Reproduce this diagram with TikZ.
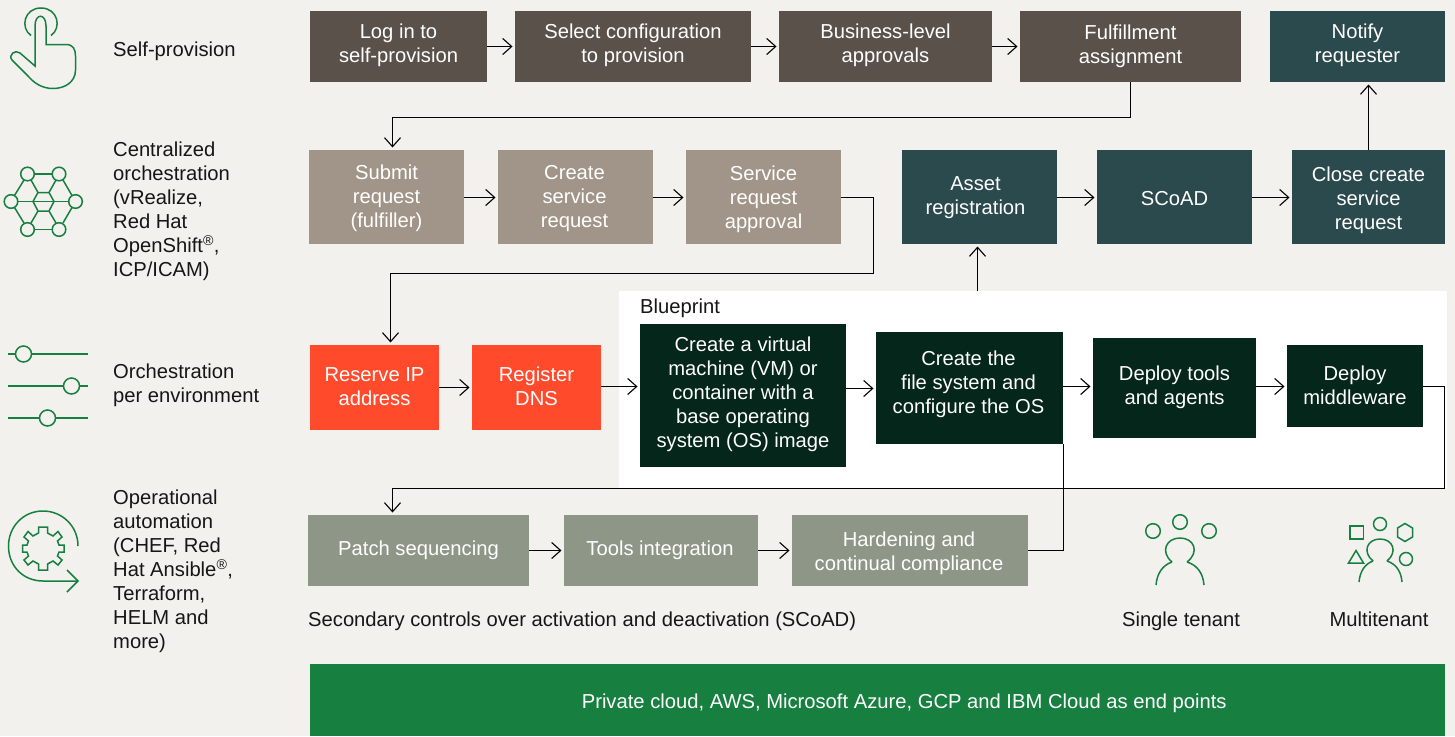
\documentclass[tikz,border=0pt]{standalone}
\usepackage{fontspec}
\setmainfont{Liberation Sans}
\usetikzlibrary{arrows.meta,calc}
\definecolor{bgc}{HTML}{F2F1ED}
\definecolor{brownc}{HTML}{5A514B}
\definecolor{tanc}{HTML}{A09588}
\definecolor{tealc}{HTML}{2B4A4D}
\definecolor{redc}{HTML}{FF4A2B}
\definecolor{darkc}{HTML}{05261A}
\definecolor{sagec}{HTML}{8E9688}
\definecolor{greenc}{HTML}{178040}
\definecolor{inkc}{HTML}{161616}
\tikzset{
 x=1pt,y=-1pt,
 box/.style={anchor=north west,inner sep=0pt,outer sep=0pt},
 boxtext/.style={inner sep=0pt,align=center,text=white,font=\fontsize{20.2}{24}\selectfont},
 brownbox/.style={box,fill=brownc},
 tanbox/.style={box,fill=tanc},
 tealbox/.style={box,fill=tealc},
 redbox/.style={box,fill=redc},
 darkbox/.style={box,fill=darkc},
 sagebox/.style={box,fill=sagec},
 lab/.style={anchor=west,inner sep=0pt,align=left,text=inkc,font=\fontsize{20.2}{24}\selectfont},
 arr/.style={draw=black,line width=1.1pt,shorten >=2.5pt,-{Straight Barb[length=9pt,width=16pt,line width=1.1pt]}},
 plainline/.style={draw=black,line width=1.1pt},
 icon/.style={draw=greenc,line width=1.5pt,fill=none},
}
\newcommand{\bx}[8]{\pgfmathsetmacro{\bxw}{#4-#2}\pgfmathsetmacro{\bxh}{#5-#3}
 \node[#6,minimum width=\bxw pt,minimum height=\bxh pt] (#1) at (#2,#3) {};
 \node[boxtext] (#1t) at ($(#1.center)+(#7)$) {#8};}
\begin{document}
\begin{tikzpicture}
\useasboundingbox (0,0) rectangle (1455,736);
\fill[bgc] (0,0) rectangle (1455,736);
\node[anchor=north west,inner sep=0pt,fill=white,minimum width=828pt,minimum height=197pt] (blueprint) at (619,291) {};
\node[lab] (bplabel) at (640,308) {Blueprint};
\bx{login}{310}{11}{487}{82}{brownbox}{0,-1}{Log in to\\self-provision}
\bx{select}{515}{11}{751}{82}{brownbox}{0,-1}{Select configuration\\to provision}
\bx{biz}{779}{11}{992}{82}{brownbox}{0,-1}{Business-level\\approvals}
\bx{fulfil}{1020}{11}{1241}{82}{brownbox}{0,0}{Fulfillment\\assignment}
\bx{notify}{1270}{11}{1445}{82}{tealbox}{0,-1}{Notify\\requester}
\bx{submit}{309}{150}{464}{244}{tanbox}{0,1}{Submit\\request\\(fulfiller)}
\bx{create}{498}{150}{653}{244}{tanbox}{-1,2}{Create\\service\\request}
\bx{approval}{686}{150}{841}{244}{tanbox}{0,2}{Service\\request\\approval}
\bx{asset}{902}{150}{1057}{244}{tealbox}{-4,1}{Asset\\registration}
\bx{scoad}{1097}{150}{1252}{244}{tealbox}{0,1.5}{SCoAD}
\bx{close}{1292}{150}{1445}{244}{tealbox}{0,3}{Close create\\service\\request}
\bx{ip}{310}{345}{439}{430}{redbox}{0,-1}{Reserve IP\\address}
\bx{dns}{472}{345}{601}{430}{redbox}{0,-1}{Register\\DNS}
\bx{vm}{640}{324}{846}{467}{darkbox}{0,-1}{Create a virtual\\machine (VM) or\\container with a\\base operating\\system (OS) image}
\bx{fs}{876}{332}{1063}{444}{darkbox}{-1,-4}{Create the\\file system and\\configure the OS}
\bx{tools}{1093}{338}{1256}{438}{darkbox}{0,-1}{Deploy tools\\and agents}
\bx{mw}{1287}{345}{1423}{427}{darkbox}{0,-1}{Deploy\\middleware}
\bx{patch}{308}{515}{529}{586}{sagebox}{0,0}{Patch sequencing}
\bx{integ}{564}{515}{758}{586}{sagebox}{-1,0}{Tools integration}
\bx{hard}{792}{515}{1028}{586}{sagebox}{-1,3}{Hardening and\\continual compliance}
\node[anchor=north west,inner sep=0pt,fill=greenc,minimum width=1135pt,minimum height=72pt] (bar) at (310,664) {};
\node[boxtext] (bart) at ($(bar.center)+(26.5,3.5)$) {Private cloud, AWS, Microsoft Azure, GCP and IBM Cloud as end points};
\draw[arr] (login.east) -- (select.west);
\draw[arr] (select.east) -- (biz.west);
\draw[arr] (biz.east) -- (fulfil.west);
\draw[arr] (fulfil.south) -- ++(0,35.5) -| ([xshift=6pt]submit.north);
\draw[arr] (submit.east |- 0,197.5) -- (create.west |- 0,197.5);
\draw[arr] (create.east |- 0,197.5) -- (approval.west |- 0,197.5);
\draw[arr] (approval.east |- 0,197.5) -- (873.5,197.5) -- (873.5,273.5) -- (390.5,273.5) -- (ip.north -| 390.5,345);
\draw[arr] (asset.east |- 0,197.5) -- (scoad.west |- 0,197.5);
\draw[arr] (scoad.east |- 0,197.5) -- (close.west |- 0,197.5);
\draw[arr] (close.north) -- (close.north |- notify.south);
\draw[arr] (blueprint.north -| 977.5,291) -- (asset.south -| 977.5,244);
\draw[arr] (ip.east |- 0,387.5) -- (dns.west |- 0,387.5);
\draw[arr] (dns.east |- 0,386.5) -- (vm.west |- 0,386.5);
\draw[arr] (vm.east |- 0,388.5) -- (fs.west |- 0,388.5);
\draw[arr] (fs.east |- 0,386.5) -- (tools.west |- 0,386.5);
\draw[arr] (tools.east |- 0,386.5) -- (mw.west |- 0,386.5);
\draw[arr] (mw.east |- 0,386.5) -- (1444.5,386.5) -- (1444.5,488.5) -- (392.5,488.5) -- (patch.north -| 392.5,515);
\draw[arr] (patch.east) -- (integ.west);
\draw[arr] (integ.east) -- (hard.west);
\draw[plainline] (hard.east) -- (1063.5,550.5) -- (fs.south -| 1063.5,444);
\node[lab] (l1) at (113,51) {Self-provision};
\node[lab] (l2) at (113,211.5) {Centralized\\orchestration\\(vRealize,\\Red Hat\\OpenShift\textsuperscript{®},\\ICP/ICAM)};
\node[lab] (l3) at (113,385.5) {Orchestration\\per environment};
\node[lab] (l4) at (113,571.5) {Operational\\automation\\(CHEF, Red\\Hat Ansible\textsuperscript{®},\\Terraform,\\HELM and\\more)};
\node[lab,anchor=base west] (l5) at (308,626) {Secondary controls over activation and deactivation (SCoAD)};
\node[lab,anchor=base] (l6) at (1181,626) {Single tenant};
\node[lab,anchor=base] (l7) at (1379,626) {Multitenant};
\draw[icon] (31,35.5) .. controls (20,28) and (24,8) .. (41,8) .. controls (58,8) and (62,28) .. (51,35.5);
\draw[icon] (35,66) -- (35,26) .. controls (35,13) and (46,13) .. (46,26) -- (46,44.5) -- (66,44.5) .. controls (73,44.5) and (75.5,49) .. (75.5,56) -- (75.5,70) .. controls (75.5,82) and (65,88.5) .. (53,88.5) .. controls (42,88.5) and (34,83) .. (28,76) -- (12,60) .. controls (8,55) and (15,49) .. (20,53) -- cycle;
\foreach \a/\b in {27.5/174,59/174,11/201.5,75.5/201.5,27.5/229.5,59/229.5}{\draw[icon] (\a,\b) circle (6.8);}
\draw[icon] (34.3,174) -- (52.2,174) (34.3,229.5) -- (52.2,229.5) (17.8,201.5) -- (68.7,201.5);
\draw[icon] (31,180) -- (38,192.5) -- (33,201.5) -- (38,211) -- (49,211) -- (54,201.5) -- (49,192.5) -- (38,192.5);
\draw[icon] (56,180) -- (49,192.5);
\draw[icon] (31,223) -- (38,211) (56,223) -- (49,211);
\draw[icon] (14.5,195.5) -- (24,180) (72,195.5) -- (63,180) (14.5,207.5) -- (24,223) (72,207.5) -- (63,223);
\foreach \y/\c in {354/23.5,386/71.5,418/47.5}{
 \draw[icon] (7.5,\y) -- (87.5,\y);
 \draw[draw=greenc,line width=1.5pt,fill=bgc] (\c,\y) circle (8);}
\draw[icon] (78,546) .. controls (78,526) and (62,511) .. (43,511) .. controls (23,511) and (8.5,527) .. (8.5,546) .. controls (8.5,566) and (23,581) .. (43,581) -- (77,581);
\draw[icon] (67,570) -- (78,581) -- (67,592);
\draw[icon] (38.5,527) -- (47.5,527) -- (47.5,533) -- (53,536) -- (58,531.5) -- (62,537) -- (57.5,541) -- (59,545) -- (64,545) -- (64,552) -- (59,552) -- (57.5,556) -- (62,560) -- (58,565) -- (53,561) -- (47.5,564) -- (47.5,570) -- (38.5,570) -- (38.5,564) -- (33,561) -- (28,565) -- (24,560) -- (28.5,556) -- (27,552) -- (22.5,552) -- (22.5,545) -- (27,545) -- (28.5,541) -- (24,537) -- (28,531.5) -- (33,536) -- (38.5,533) -- cycle;
\foreach \a/\b in {1153/531,1180/522,1209/531}{\draw[icon] (\a,\b) circle (7.3);}
\draw[icon] (1172,562) .. controls (1160,552) and (1166,538) .. (1180,538) .. controls (1194,538) and (1200,552) .. (1187,562);
\draw[icon] (1156,585) .. controls (1157,573) and (1163,565) .. (1172,562);
\draw[icon] (1204,585) .. controls (1203,573) and (1197,565) .. (1187,562);
\draw[icon] (1350,526) rectangle (1363.5,539);
\draw[icon] (1380,524) circle (6.5);
\draw[icon] (1405,523.5) -- (1412.5,528) -- (1412.5,537) -- (1405,541.5) -- (1397.5,537) -- (1397.5,528) -- cycle;
\draw[icon] (1356,550.5) -- (1363.5,563) -- (1348.5,563) -- cycle;
\draw[icon] (1406,559) circle (6.5);
\draw[icon] (1373,561) .. controls (1362,552) and (1367,539) .. (1380,539) .. controls (1393,539) and (1398,552) .. (1387,561);
\draw[icon] (1359,582) .. controls (1360,571) and (1365,564) .. (1373,561);
\draw[icon] (1402,582) .. controls (1401,571) and (1396,564) .. (1387,561);
\end{tikzpicture}
\end{document}
